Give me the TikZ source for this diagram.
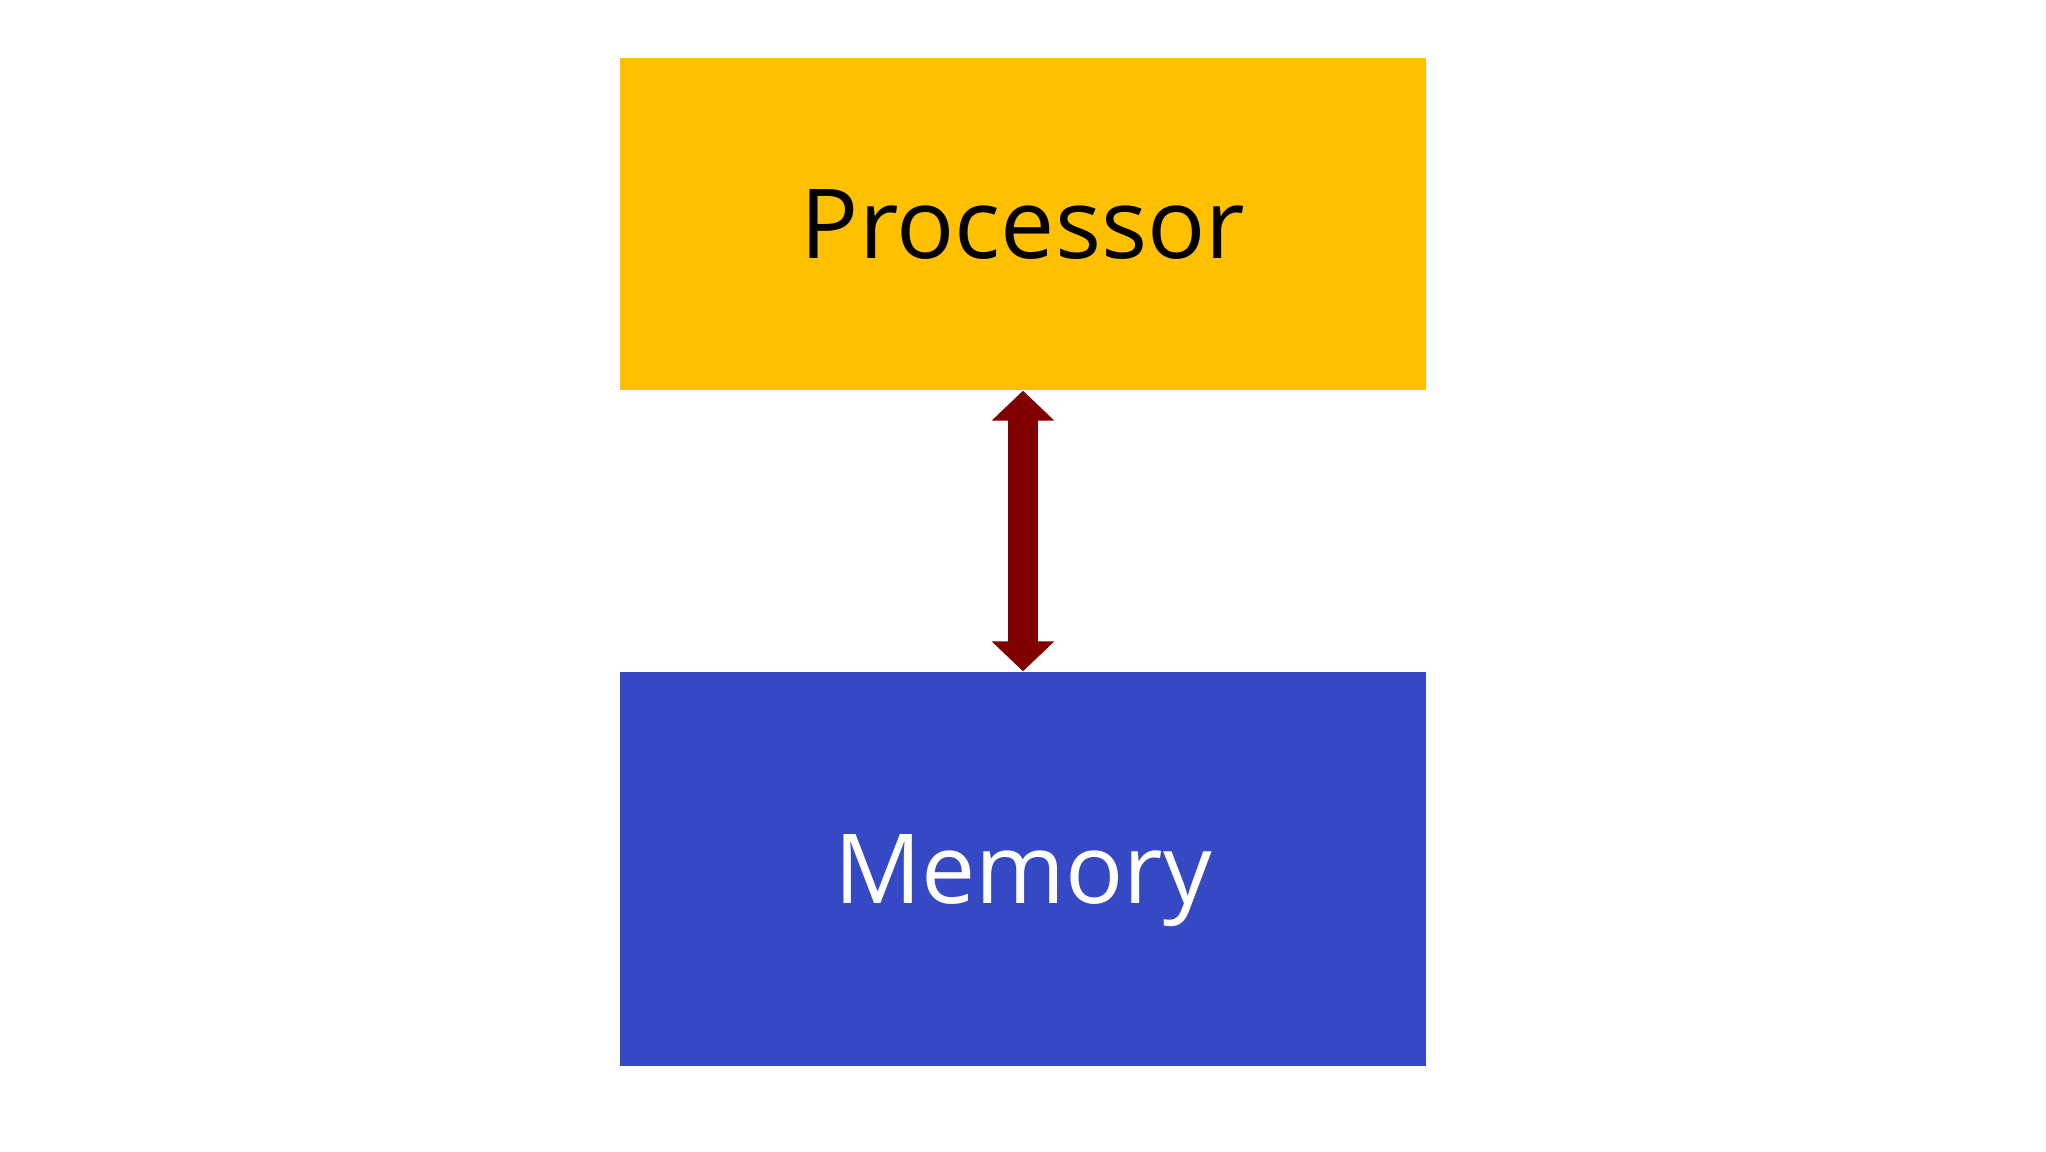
\documentclass[tikz,border=0pt]{standalone}
\usepackage{fontspec}
\setmainfont{Open Sans}
\usepackage{tikz}
\usetikzlibrary{arrows.meta}
\definecolor{bg}{HTML}{FFFFFF}
\definecolor{procfill}{HTML}{FFC000}
\definecolor{memfill}{HTML}{3649C4}
\definecolor{busred}{HTML}{800000}
\tikzset{
  box/.style={rectangle, inner sep=0pt, minimum width=8.06cm, text height=19.6pt, text depth=0pt, font=\fontsize{27.5}{33}\selectfont},
  link/.style={draw=busred, line width=0.30cm, {Triangle[width=0.61cm,length=0.30cm]}-{Triangle[width=0.61cm,length=0.30cm]}},
}

\begin{document}
\begin{tikzpicture}
  \useasboundingbox[fill=bg] (0,0) rectangle (20.46,11.51);
  \node[box, fill=procfill, text=black, minimum height=3.32cm] (proc) at (10.23,9.27) {Processor};
  \node[box, fill=memfill, text=white, minimum height=3.94cm] (mem) at (10.23,2.82) {Memory};
  \draw[link] (proc.south) -- (mem.north); % memory bus
\end{tikzpicture}
\end{document}
